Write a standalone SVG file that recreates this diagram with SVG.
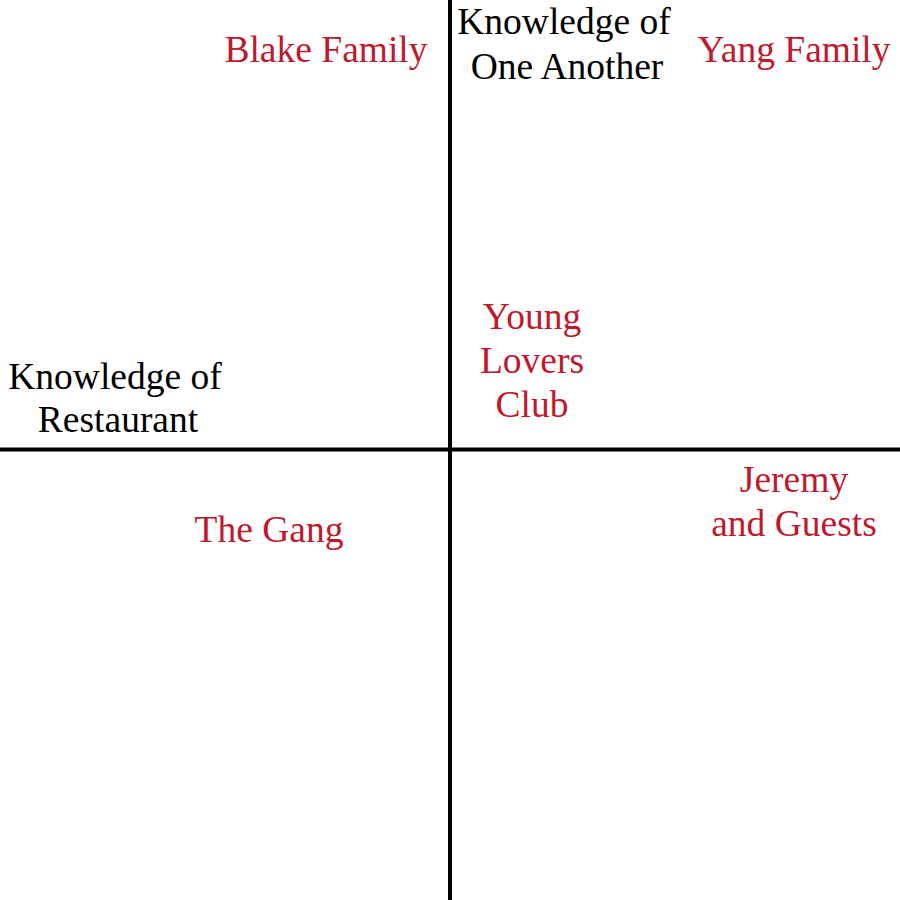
<svg xmlns="http://www.w3.org/2000/svg" width="900" height="900" viewBox="0 0 900 900">
  <style>
    text { font-family: "Liberation Serif", "Times New Roman", serif; font-size: 37.5px; text-anchor: middle; }
    .axis-label { fill: #000000; }
    .group { fill: #C0182C; }
    .axis { stroke: #000000; stroke-width: 4; }
  </style>
  <rect width="900" height="900" fill="#ffffff"/>
  <g id="axes">
    <line class="axis" x1="450" y1="0" x2="450" y2="900"/>
    <line class="axis" x1="0" y1="449.5" x2="900" y2="449.5"/>
  </g>
  <g id="axis-vertical-label">
    <text class="axis-label" x="564" y="34">Knowledge of</text>
    <text class="axis-label" x="567" y="79">One Another</text>
  </g>
  <g id="axis-horizontal-label">
    <text class="axis-label" x="115" y="389">Knowledge of</text>
    <text class="axis-label" x="118" y="432">Restaurant</text>
  </g>
  <g id="blake-family">
    <text class="group" x="326" y="62">Blake Family</text>
  </g>
  <g id="yang-family">
    <text class="group" x="794" y="62">Yang Family</text>
  </g>
  <g id="young-lovers-club">
    <text class="group" x="532" y="329">Young</text>
    <text class="group" x="532" y="373">Lovers</text>
    <text class="group" x="532" y="417">Club</text>
  </g>
  <g id="the-gang">
    <text class="group" x="269" y="542">The Gang</text>
  </g>
  <g id="jeremy-and-guests">
    <text class="group" x="794" y="492">Jeremy</text>
    <text class="group" x="794" y="536">and Guests</text>
  </g>
</svg>
